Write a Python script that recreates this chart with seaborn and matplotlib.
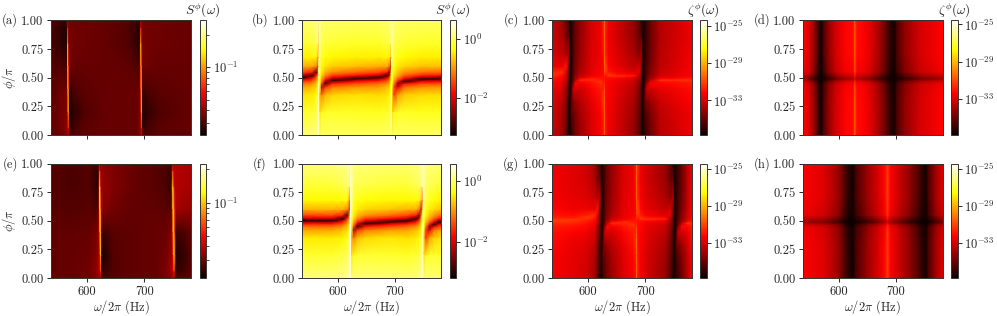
import numpy as np
import matplotlib
matplotlib.use("Agg")
import matplotlib.pyplot as plt
import seaborn as sns
from matplotlib.colors import LogNorm
from matplotlib.ticker import NullFormatter

sns.set_style("ticks")
plt.rcParams['font.family'] = ['cmr10']
plt.rcParams['mathtext.fontset'] = 'cm'
plt.rcParams['axes.formatter.use_mathtext'] = True
plt.rcParams['axes.unicode_minus'] = False
plt.rcParams['font.size'] = 9

# all values are log10 of what the colour shows

# panels (a) and (e), rows go up in phi
phi_ae = [0, .06, .2, .4, .6, .8, .94, 1]
omega_a = [538, 552, 562, 566, 567, 568, 569, 570, 572, 578, 595, 630, 670, 686, 692, 694, 695, 696, 697, 699, 705, 725, 781]
omega_e = [538, 575, 605, 617, 621, 622, 623, 624, 625, 626, 630, 645, 680, 720, 738, 746, 749, 750, 751, 752, 755, 765, 781]
log_a = [
    [-1.49, -1.48, -1.45, -1.42, -1.40, -1.39, -1.40, -1.51, -1.52, -1.51, -1.49, -1.48, -1.48, -1.48, -1.45, -1.42, -1.40, -1.39, -1.40, -1.51, -1.52, -1.50, -1.49],
    [-1.49, -1.47, -1.44, -1.40, -1.37, -1.31, -1.26, -1.55, -1.56, -1.53, -1.50, -1.48, -1.48, -1.48, -1.44, -1.37, -1.31, -1.26, -1.55, -1.56, -1.53, -1.50, -1.48],
    [-1.49, -1.47, -1.45, -1.41, -1.35, -1.05, -0.95, -1.59, -1.60, -1.57, -1.52, -1.48, -1.48, -1.48, -1.45, -1.36, -1.05, -0.95, -1.59, -1.60, -1.57, -1.52, -1.48],
    [-1.50, -1.48, -1.47, -1.43, -1.20, -0.85, -1.08, -1.54, -1.56, -1.52, -1.50, -1.48, -1.48, -1.48, -1.47, -1.20, -0.85, -1.08, -1.54, -1.55, -1.52, -1.50, -1.48],
    [-1.51, -1.52, -1.53, -1.52, -1.10, -0.82, -1.20, -1.45, -1.46, -1.48, -1.48, -1.48, -1.49, -1.51, -1.52, -1.10, -0.85, -1.20, -1.45, -1.46, -1.47, -1.48, -1.48],
    [-1.53, -1.56, -1.59, -1.57, -0.95, -1.00, -1.42, -1.44, -1.45, -1.47, -1.47, -1.48, -1.51, -1.56, -1.59, -0.95, -1.00, -1.40, -1.44, -1.45, -1.46, -1.47, -1.48],
    [-1.52, -1.56, -1.59, -1.54, -1.27, -1.37, -1.43, -1.45, -1.46, -1.47, -1.47, -1.48, -1.51, -1.56, -1.59, -1.28, -1.37, -1.43, -1.45, -1.46, -1.46, -1.47, -1.48],
    [-1.51, -1.54, -1.55, -1.48, -1.42, -1.43, -1.45, -1.46, -1.47, -1.47, -1.47, -1.48, -1.50, -1.54, -1.55, -1.42, -1.43, -1.45, -1.46, -1.46, -1.46, -1.47, -1.48],
]
log_e = [
    [-1.55, -1.54, -1.52, -1.49, -1.47, -1.46, -1.45, -1.44, -1.46, -1.57, -1.58, -1.56, -1.55, -1.54, -1.51, -1.48, -1.46, -1.45, -1.44, -1.46, -1.56, -1.56, -1.55],
    [-1.55, -1.54, -1.52, -1.47, -1.44, -1.42, -1.39, -1.34, -1.26, -1.62, -1.62, -1.57, -1.55, -1.54, -1.50, -1.46, -1.42, -1.39, -1.34, -1.26, -1.62, -1.60, -1.56],
    [-1.55, -1.54, -1.53, -1.49, -1.44, -1.40, -1.33, -1.10, -0.98, -1.64, -1.65, -1.57, -1.55, -1.54, -1.52, -1.47, -1.42, -1.33, -1.10, -0.98, -1.64, -1.63, -1.57],
    [-1.55, -1.55, -1.54, -1.51, -1.46, -1.38, -1.10, -0.94, -1.15, -1.57, -1.60, -1.56, -1.55, -1.54, -1.53, -1.50, -1.44, -1.10, -0.96, -1.15, -1.60, -1.59, -1.55],
    [-1.56, -1.57, -1.56, -1.58, -1.50, -1.25, -0.95, -0.90, -1.20, -1.46, -1.49, -1.52, -1.55, -1.55, -1.56, -1.56, -1.48, -0.95, -0.92, -1.20, -1.44, -1.46, -1.47],
    [-1.57, -1.58, -1.57, -1.62, -1.60, -1.10, -0.92, -1.10, -1.42, -1.45, -1.47, -1.50, -1.54, -1.56, -1.58, -1.63, -1.15, -0.92, -1.10, -1.40, -1.42, -1.43, -1.44],
    [-1.56, -1.58, -1.57, -1.62, -1.58, -1.34, -1.24, -1.42, -1.45, -1.46, -1.48, -1.50, -1.54, -1.56, -1.58, -1.62, -1.40, -1.24, -1.38, -1.41, -1.42, -1.43, -1.44],
    [-1.56, -1.57, -1.56, -1.58, -1.52, -1.47, -1.44, -1.46, -1.47, -1.48, -1.49, -1.50, -1.54, -1.56, -1.57, -1.58, -1.47, -1.42, -1.43, -1.43, -1.43, -1.44, -1.44],
]

# panels (b) and (f), one list per column, going up in phi
phi_bf = [0, .2, .35, .42, .45, .47, .48, .49, .50, .51, .52, .53, .55, .6, .68, .8, 1]
s538 = [.06, -.22, -.5, -.9, -1.2, -1.55, -1.8, -2.15, -2.9, -2.9, -2.15, -1.8, -1.4, -.8, -.42, -.2, .06]
s555 = [.1, -.15, -.45, -.75, -1.0, -1.3, -1.45, -1.65, -1.95, -2.5, -3.1, -2.5, -1.65, -.85, -.4, -.12, .1]
s563 = [.15, -.05, -.3, -.55, -.7, -.85, -.95, -1.05, -1.2, -1.35, -1.6, -1.9, -2.9, -1.1, -.4, 0, .15]
s566 = [.3, .2, .05, -.1, -.2, -.28, -.32, -.38, -.42, -.48, -.55, -.62, -.8, -1.7, -1.2, .05, .3]
s567 = [.4, .35, .3, .2, .15, .1, .1, .05, .05, 0, 0, 0, -.05, -.15, -.5, -.8, .3]
s568 = [.35, .5, .55, .55, .55, .55, .55, .55, .55, .55, .55, .55, .55, .55, .55, .5, .3]
s569 = [.35, .5, .55, .5, .5, .48, .48, .46, .46, .44, .44, .42, .42, .4, .38, .32, .28]
s570 = [.1, -.5, -.85, -.5, -.4, -.3, -.25, -.2, -.2, -.15, -.12, -.1, -.05, .05, .12, .2, .25]
s573 = [.06, -.3, -1.1, -2.4, -1.45, -1.1, -1, -.9, -.8, -.7, -.62, -.55, -.45, -.35, -.2, -.05, .08]
s578 = [.05, -.22, -.75, -1.55, -2.9, -2.15, -1.8, -1.55, -1.4, -1.2, -1.05, -.95, -.78, -.5, -.32, -.12, .06]
s590 = [.05, -.2, -.6, -1.15, -1.68, -2.5, -3.15, -2.5, -1.95, -1.68, -1.5, -1.3, -1, -.62, -.38, -.15, .06]
s630 = [.03, -.22, -.52, -.95, -1.4, -1.8, -2.15, -2.9, -2.9, -2.15, -1.8, -1.55, -1.2, -.72, -.42, -.2, .03]
s672 = [.03, -.25, -.55, -.92, -1.2, -1.55, -1.8, -2.15, -2.9, -2.9, -2.15, -1.8, -1.4, -.82, -.42, -.2, .03]
s686 = [.06, -.2, -.5, -.75, -1.0, -1.3, -1.45, -1.65, -1.95, -2.5, -3.1, -2.5, -1.65, -.85, -.4, -.12, .08]
s691 = [.1, -.12, -.4, -.6, -.78, -.95, -1.05, -1.2, -1.35, -1.55, -1.8, -2.3, -2.6, -1.2, -.45, -.05, .12]
s693 = [.2, .05, -.15, -.3, -.38, -.45, -.5, -.55, -.6, -.68, -.75, -.85, -1.05, -2.2, -.75, .02, .2]
s694 = [.3, .2, .08, -.02, -.08, -.12, -.15, -.18, -.2, -.22, -.25, -.28, -.35, -.7, -1.5, 0, .28]
s695 = [.38, .52, .55, .55, .55, .55, .55, .55, .55, .55, .55, .55, .55, .55, .55, .5, .32]
s696 = [.42, .52, .55, .52, .5, .48, .48, .46, .46, .44, .44, .42, .42, .4, .38, .32, .28]
s697 = [.1, -.55, -.75, -.5, -.4, -.3, -.25, -.2, -.2, -.15, -.12, -.1, -.05, .05, .12, .2, .25]
s700 = [.06, -.3, -1.5, -1.5, -1.1, -.9, -.82, -.75, -.68, -.62, -.55, -.5, -.42, -.3, -.15, 0, .08]
s705 = [.05, -.22, -.9, -2.0, -2.5, -1.7, -1.5, -1.3, -1.15, -1.0, -.9, -.82, -.7, -.48, -.28, -.1, .06]
s716 = [.04, -.22, -.65, -1.2, -1.8, -3.1, -2.5, -1.95, -1.68, -1.45, -1.3, -1.15, -.95, -.58, -.36, -.15, .05]
s745 = [.03, -.24, -.55, -1.0, -1.45, -1.95, -2.5, -3.15, -2.5, -1.95, -1.68, -1.45, -1.15, -.7, -.42, -.2, .03]
s781 = [.03, -.24, -.53, -.95, -1.4, -1.8, -2.15, -2.9, -2.9, -2.15, -1.8, -1.55, -1.2, -.72, -.42, -.2, .03]

omega_b = [538, 555, 563, 566.3, 567.2, 567.7, 568.2, 568.8, 572, 578, 590, 630, 672, 686, 691, 693, 694, 694.6, 695.1, 695.7, 698.5, 705, 716, 745, 781]
cols_b = [s538, s555, s563, s566, s567, s568, s569, s570, s573, s578, s590, s630, s672, s686, s691, s693, s694, s695, s696, s697, s700, s705, s716, s745, s781]
omega_f = [538, 590, 608, 617, 621, 622.2, 622.8, 623.4, 624, 628, 634, 648, 690, 722, 737, 743, 746, 748.6, 749.6, 750.2, 750.8, 754, 760, 768, 776, 781]
cols_f = [s538, s538, s555, s563, s566, s567, s568, s569, s570, s573, s578, s590, s630, s672, s686, s691, s693, s694, s695, s696, s697, s700, s705, s716, s745, s781]

# panels (c) and (g), one list per column
phi_cg = [0, .2, .3, .4, .45, .47, .48, .49, .5, .51, .52, .53, .55, .6, .7, .85, 1]
z538 = [-33.2, -33, -32.8, -32.5, -32.2, -32.1, -32, -31.9, -31.8, -31.6, -31.4, -31.2, -31.7, -32.5, -32.9, -33.1, -33.2]
z552 = [-33.9, -33.7, -33.4, -33, -32.7, -32.5, -32.4, -32.3, -32.2, -32.1, -32, -31.8, -31.4, -32.6, -33.3, -33.7, -33.9]
z562 = [-35.1, -34.9, -34.6, -34.2, -33.9, -33.7, -33.6, -33.5, -33.4, -33.3, -33.2, -33.1, -32.9, -31.8, -33.6, -34.7, -35]
z566 = [-36.2, -36, -35.8, -35.5, -35.3, -35.2, -35.1, -35.1, -35, -35, -34.9, -34.8, -34.7, -34.3, -33.2, -34.8, -35.5]
z569 = [-36.5, -36.5, -36.5, -36.5, -36.5, -36.5, -36.5, -36.5, -36.5, -36.5, -36.5, -36.5, -36.5, -36.5, -36.5, -36.5, -36.5]
z572 = [-36, -35, -35.3, -35.7, -35.9, -36, -36, -36, -36.1, -36.1, -36.1, -36.1, -36.1, -36.2, -36.2, -36.2, -36.2]
z575 = [-35.4, -35, -34.4, -33, -34.3, -34.7, -34.8, -34.9, -35, -35.1, -35.1, -35.2, -35.2, -35.3, -35.4, -35.5, -35.5]
z580 = [-34.8, -34.5, -34, -33, -32.1, -33.1, -33.5, -33.8, -34, -34.2, -34.3, -34.4, -34.5, -34.7, -34.8, -34.9, -34.9]
z590 = [-34.2, -33.9, -33.6, -33.1, -32.5, -32, -31.6, -32, -32.7, -33.1, -33.3, -33.5, -33.7, -33.9, -34.1, -34.2, -34.3]
z610 = [-33, -32.9, -32.7, -32.3, -32, -31.8, -31.5, -31.4, -31.9, -32.3, -32.5, -32.6, -32.7, -32.8, -32.9, -33, -33]
z622 = [-32.3, -32.2, -32, -31.8, -31.5, -31.2, -31.6, -31.8, -31.9, -32, -32.1, -32.2, -32.3, -32.4, -32.5, -32.5, -32.5]
z627 = [-31.8, -31.6, -31, -31.6, -31.8, -31.9, -31.9, -31.9, -31.9, -32, -32, -32, -32, -32.1, -31.9, -31.7, -31.5]
z629 = [-29.8, -30, -30, -30.4, -31, -31.3, -31.5, -31.6, -31.6, -31.6, -31.4, -31.2, -30.9, -30.2, -30, -30, -29.8]
z631 = [-31.8, -32, -32.1, -32.1, -32.1, -32.1, -32.1, -32.1, -32, -32, -31.9, -31.8, -31.2, -30.9, -31.6, -31.8, -31.6]
z636 = [-32.5, -32.4, -32.3, -32.3, -32.2, -32.2, -32.1, -32.1, -32, -31.7, -31.2, -31.3, -31.8, -32.2, -32.4, -32.5, -32.5]
z650 = [-33, -32.9, -32.8, -32.7, -32.6, -32.5, -32.4, -32.3, -32.1, -31.6, -31.4, -31.9, -32.3, -32.6, -32.8, -33, -33]
z675 = [-34.2, -34, -33.8, -33.5, -33.3, -33.2, -33.1, -33, -32.7, -32.2, -31.7, -32.3, -32.9, -33.4, -33.8, -34.1, -34.2]
z687 = [-35.3, -35.1, -34.9, -34.6, -34.4, -34.3, -34.2, -34.1, -34, -33.9, -33.8, -33.6, -32.6, -33, -34.4, -35, -35.2]
z692 = [-36.2, -36, -35.8, -35.6, -35.4, -35.3, -35.3, -35.2, -35.2, -35.1, -35.1, -35, -34.9, -34.5, -33.4, -35, -36]
z699 = [-36.1, -35.6, -35.2, -35.8, -36, -36, -36, -36.1, -36.1, -36.1, -36.1, -36.2, -36.2, -36.2, -36.2, -36.2, -36.2]
z703 = [-35.6, -35.2, -34.6, -33.2, -34.5, -34.9, -35, -35.1, -35.2, -35.2, -35.3, -35.3, -35.4, -35.5, -35.6, -35.7, -35.7]
z712 = [-35, -34.6, -34.1, -33.1, -32.2, -33.1, -33.5, -33.8, -34, -34.2, -34.3, -34.4, -34.5, -34.7, -34.9, -35, -35]
z735 = [-33.6, -33.4, -33.1, -32.7, -32.2, -31.9, -31.3, -32, -32.5, -32.8, -33, -33.1, -33.2, -33.4, -33.5, -33.6, -33.6]
z781 = [-32.5, -32.4, -32.2, -32, -31.8, -31.6, -31.4, -31.5, -31.9, -32.1, -32.2, -32.2, -32.3, -32.3, -32.4, -32.5, -32.5]
g538 = [-32.4, -32.3, -32.2, -32, -31.8, -31.6, -31.5, -31.3, -31.1, -31.2, -31.5, -31.7, -31.9, -32.2, -32.4, -32.5, -32.5]
g575 = [-32.8, -32.7, -32.6, -32.3, -32, -31.8, -31.7, -31.5, -31.4, -31.2, -31.5, -31.8, -32.1, -32.5, -32.7, -32.8, -32.8]

omega_c = [538, 555, 563, 566.5, 569, 571.5, 574.5, 578, 586, 605, 622, 627.8, 629, 630.2, 636, 650, 680, 690, 693, 696, 698.5, 701.5, 708, 725, 781]
cols_c = [z538, z552, z562, z566, z569, z572, z575, z580, z590, z610, z622, z627, z629, z631, z636, z650, z675, z687, z692, z569, z699, z703, z712, z735, z781]
omega_g = [538, 575, 598, 612, 617, 620.5, 624, 626.5, 629.5, 633, 641, 660, 679, 684.7, 685.5, 686.5, 692, 700, 735, 744, 748, 751, 753.5, 757, 763, 773, 781]
cols_g = [g538, g575, z538, z552, z562, z566, z569, z572, z575, z580, z590, z610, z622, z627, z629, z631, z636, z650, z675, z687, z692, z569, z699, z703, z712, z735, z781]

# panels (d) and (h), one list per column
phi_dh = [0, .3, .44, .47, .49, .51, .55, .7, 1]
d37 = [-32.3, -32.3, -32.45, -33.1, -34.1, -33.6, -32.55, -32.3, -32.3]
d32 = [-32.9, -32.9, -33.05, -33.7, -34.7, -34.2, -33.15, -32.9, -32.9]
d30 = [-33.2, -33.2, -33.35, -34, -35, -34.5, -33.45, -33.2, -33.2]
d22 = [-34.1, -34.1, -34.3, -34.9, -35.9, -35.4, -34.4, -34.1, -34.1]
d20 = [-34.4, -34.4, -34.6, -35.2, -36.1, -35.7, -34.7, -34.4, -34.4]
d12 = [-35.4, -35.4, -35.6, -36, -36.5, -36.3, -35.7, -35.4, -35.4]
d10 = [-35.6, -35.6, -35.8, -36.2, -36.6, -36.4, -35.9, -35.6, -35.6]
d05 = [-36.2, -36.3, -36.4, -36.6, -36.7, -36.7, -36.5, -36.3, -36.2]
d04 = [-36.4, -36.4, -36.5, -36.6, -36.7, -36.7, -36.5, -36.4, -36.4]
d00 = [-36.6, -36.6, -36.6, -36.7, -36.8, -36.8, -36.7, -36.6, -36.6]
d38 = [-32.2, -32.2, -32.35, -33, -34, -33.5, -32.45, -32.2, -32.2]
d45 = [-31.3, -31.3, -31.5, -32.2, -33.2, -32.7, -31.6, -31.3, -31.3]
d55 = [-30.1, -30.1, -30.4, -31.1, -32.2, -31.6, -30.5, -30.1, -30.1]

omega_d = [538, 550, 558, 564, 566.5, 569, 571.5, 574, 582, 595, 612, 625, 628.4, 629, 629.6, 632, 642, 655, 672, 684, 691, 693.5, 696, 698.5, 701.5, 715, 740, 781]
cols_d = [d37, d30, d20, d10, d05, d00, d04, d10, d20, d30, d37, d38, d45, d55, d45, d38, d37, d32, d22, d12, d05, d04, d00, d04, d10, d20, d30, d37]
omega_h = [538, 575, 600, 610, 618, 621.5, 624, 626.5, 630, 650, 670, 680, 684.5, 685, 685.5, 690, 705, 725, 740, 747, 749.5, 751, 753, 756, 768, 781]
cols_h = [d37, d32, d22, d12, d05, d04, d00, d04, d10, d22, d32, d38, d45, d55, d45, d37, d30, d20, d10, d05, d04, d00, d04, d10, d22, d32]

# colour bar ranges as log10(min), log10(max)
range_a = (-1.63, -0.562)
range_b = (-3.24, 0.644)
range_c = (-36.7, -24.4)
range_d = (-36.86, -24.57)
range_e = (-1.684, -0.645)
range_f = (-3.18, 0.565)
range_g = (-36.79, -24.43)
range_h = (-36.79, -24.43)

s_ticks = [1e-1]
s_tick_labels = ['$10^{-1}$']
s_minor = [.2, .09, .08, .07, .06, .05, .04, .03]
b_ticks = [1, 1e-2]
b_tick_labels = ['$10^{0}$', '$10^{-2}$']
z_ticks = [1e-25, 1e-29, 1e-33]
z_tick_labels = ['$10^{-25}$', '$10^{-29}$', '$10^{-33}$']
omega_ticks = [600, 700]
phi_ticks = [0, .25, .5, .75, 1]
phi_tick_labels = ['0.00', '0.25', '0.50', '0.75', '1.00']

W, H = 997, 316
fig = plt.figure(figsize=(W / 100, H / 100), dpi=100)


def box(left, right, top, bottom):
    return [left / W, 1 - bottom / H, (right - left) / W, (bottom - top) / H]


def draw_panel(pos, cpos, omega, phi, log_vals, lim, ticks, labels, minor=None):
    ax = fig.add_axes(box(*pos))
    cax = fig.add_axes(box(*cpos))
    data = np.power(10.0, np.array(log_vals))
    sns.heatmap(data, ax=ax, cbar_ax=cax, cmap='hot', shading='gouraud',
                norm=LogNorm(10.0 ** lim[0], 10.0 ** lim[1]),
                xticklabels=False, yticklabels=False)
    # cells are spaced unevenly, so the index axes get stretched to omega and phi
    ix = np.arange(len(omega))
    iy = np.arange(len(phi))
    ax.set_xscale('function', functions=(lambda i: np.interp(i, ix, omega), lambda w: np.interp(w, omega, ix)))
    ax.set_yscale('function', functions=(lambda i: np.interp(i, iy, phi), lambda p: np.interp(p, phi, iy)))
    ax.set_xlim(0, len(omega) - 1)
    ax.set_ylim(0, len(phi) - 1)
    ax.set_xticks(np.interp(omega_ticks, omega, ix))
    ax.set_yticks(np.interp(phi_ticks, phi, iy))
    ax.set_xticks([], minor=True)
    ax.set_yticks([], minor=True)
    ax.set_yticklabels(phi_tick_labels)
    ax.set_xticklabels([])
    ax.tick_params(length=3, width=0.7, labelsize=9, pad=2.5, left=True, bottom=True)
    for s in ax.spines.values():
        s.set_visible(True)
        s.set_linewidth(0.7)
        s.set_color('#333333')

    cb = ax.collections[0].colorbar
    cb.outline.set_linewidth(0.7)
    cb.outline.set_edgecolor('#333333')
    cb.minorticks_off()
    cb.set_ticks(ticks, labels=labels)
    if minor is not None:
        cb.set_ticks(minor, minor=True)
        cax.yaxis.set_minor_formatter(NullFormatter())
    cax.tick_params(which='major', length=3, width=0.7, labelsize=9, pad=2)
    cax.tick_params(which='minor', length=1.8, width=0.6)
    return ax, cax


lefts = [(51, 191, 199.5, 206), (302.3, 441.3, 450, 456), (552.3, 692, 700.3, 706.5), (803, 942.7, 951, 957.5)]
rows = [(20.3, 135), (163.5, 278)]

top_panels = [
    (omega_a, phi_ae, log_a, range_a, s_ticks, s_tick_labels, s_minor),
    (omega_b, phi_bf, np.array(cols_b).T, range_b, b_ticks, b_tick_labels, None),
    (omega_c, phi_cg, np.array(cols_c).T, range_c, z_ticks, z_tick_labels, None),
    (omega_d, phi_dh, np.array(cols_d).T, range_d, z_ticks, z_tick_labels, None),
]
bottom_panels = [
    (omega_e, phi_ae, log_e, range_e, s_ticks, s_tick_labels, s_minor),
    (omega_f, phi_bf, np.array(cols_f).T, range_f, b_ticks, b_tick_labels, None),
    (omega_g, phi_cg, np.array(cols_g).T, range_g, z_ticks, z_tick_labels, None),
    (omega_h, phi_dh, np.array(cols_h).T, range_h, z_ticks, z_tick_labels, None),
]
titles = ['$S^\\phi(\\omega)$', '$S^\\phi(\\omega)$', '$\\zeta^\\phi(\\omega)$', '$\\zeta^\\phi(\\omega)$']
letters_top = ['(a)', '(b)', '(c)', '(d)']
letters_bottom = ['(e)', '(f)', '(g)', '(h)']
letter_x = [10, 260, 511, 762]

for i in range(4):
    l, r, cl, cr = lefts[i]

    ax, cax = draw_panel((l, r, *rows[0]), (cl, cr, *rows[0]), *top_panels[i])
    cax.set_title(titles[i], fontsize=9.5, pad=0.5)
    if i == 0:
        ax.set_ylabel('$\\phi/\\pi$', fontsize=9, labelpad=2)
    fig.text(letter_x[i] / W, 1 - 20.5 / H, letters_top[i], ha='center', va='center', fontsize=9)

    ax, cax = draw_panel((l, r, *rows[1]), (cl, cr, *rows[1]), *bottom_panels[i])
    ax.set_xticklabels([str(t) for t in omega_ticks])
    ax.set_xlabel('$\\omega/2\\pi$ (Hz)', fontsize=9, labelpad=0.5)
    if i == 0:
        ax.set_ylabel('$\\phi/\\pi$', fontsize=9, labelpad=2)
    fig.text(letter_x[i] / W, 1 - 164.5 / H, letters_bottom[i], ha='center', va='center', fontsize=9)

fig.savefig('out.png', dpi=100)
